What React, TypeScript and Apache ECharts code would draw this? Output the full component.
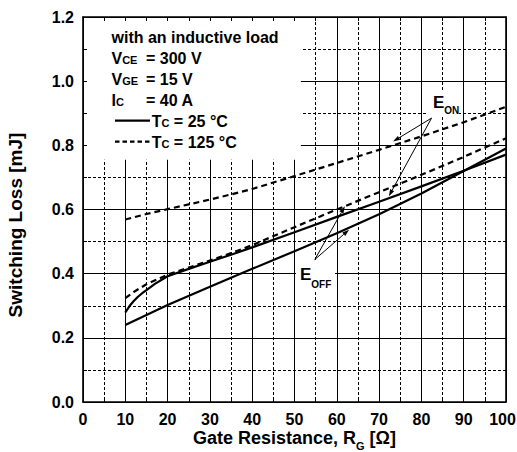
import React, { useEffect, useRef } from "react";
import * as echarts from "echarts";

// ---------------- data ----------------
const xMin = 0;
const xMax = 100;
const xStep = 10;
const yMin = 0;
const yMax = 1.2;
const yStep = 0.2;

// E_ON, Tc = 125 °C (dashed, upper)
const eon125X = [10, 15, 20, 25, 30, 35, 40, 50, 60, 70, 80, 90, 100];
const eon125Y = [0.569, 0.586, 0.601, 0.616, 0.631, 0.647, 0.664, 0.704, 0.745, 0.786, 0.828, 0.872, 0.92];

// E_OFF, Tc = 125 °C (dashed, lower)
const eoff125X = [10, 12, 15, 20, 25, 30, 35, 40, 50, 60, 70, 80, 90, 100];
const eoff125Y = [0.324, 0.343, 0.367, 0.397, 0.419, 0.441, 0.464, 0.489, 0.545, 0.6, 0.654, 0.708, 0.764, 0.822];

// E_ON, Tc = 25 °C (solid, curved start)
const eon25X = [10, 11, 12, 13, 14, 15, 17, 20, 25, 30, 35, 40, 50, 60, 70, 80, 90, 100];
const eon25Y = [0.279, 0.299, 0.315, 0.328, 0.339, 0.349, 0.368, 0.392, 0.415, 0.437, 0.459, 0.482, 0.529, 0.577, 0.624, 0.672, 0.721, 0.771];

// E_OFF, Tc = 25 °C (solid, straight)
const eoff25X = [10, 20, 30, 40, 50, 60, 70, 80, 90, 100];
const eoff25Y = [0.24, 0.302, 0.359, 0.415, 0.47, 0.526, 0.585, 0.65, 0.72, 0.79];

// annotation anchors in data units
const eonFrom = [82.4, 0.885];
const eonTips = [
  [73.3, 0.812],
  [72.3, 0.641],
];
const eoffFrom = [54.8, 0.444];
const eoffTips = [
  [61.9, 0.61],
  [62.9, 0.537],
];
// region of the condition box (no grid lines there)
const boxXEnd = 51.5;
const boxYStart = 0.755;

// texts
const xTitleMain = "Gate Resistance, R";
const xTitleSub = "G";
const xTitleTail = " [Ω]";
const yTitle = "Switching Loss [mJ]";
const condTitle = "with an inductive load";
const vceMain = "V";
const vceSub = "CE";
const vceVal = "= 300 V";
const vgeMain = "V";
const vgeSub = "GE";
const vgeVal = "= 15 V";
const icMain = "I";
const icSub = "C";
const icVal = "= 40 A";
const tcMain = "T";
const tcSub = "C";
const tc25 = " = 25 °C";
const tc125 = " = 125 °C";
const eLetter = "E";
const onSub = "ON";
const offSub = "OFF";

const FONT = "Arial, 'Liberation Sans', Helvetica, sans-serif";

const pairs = (xs: number[], ys: number[]) => xs.map((x, i) => [x, ys[i]]);

let measureCtx: CanvasRenderingContext2D | null = null;
function tw(t: string, size: number) {
  if (!measureCtx) measureCtx = document.createElement("canvas").getContext("2d");
  measureCtx!.font = `bold ${size}px ${FONT}`;
  return measureCtx!.measureText(t).width;
}

function txt(x: number, base: number, t: string, size: number, align = "left", z = 6, extra: any = {}) {
  return {
    type: "text",
    z,
    x,
    y: base - 0.3465 * size,
    ...extra,
    style: {
      text: t,
      fontSize: size,
      fontWeight: "bold",
      fontFamily: FONT,
      fill: "#000",
      textAlign: align,
      align,
      textVerticalAlign: "middle",
      verticalAlign: "middle",
    },
  };
}

function arrow(from: number[], to: number[]) {
  const dx = to[0] - from[0];
  const dy = to[1] - from[1];
  const L = Math.hypot(dx, dy);
  const ux = dx / L;
  const uy = dy / L;
  const hl = 7;
  const hw = 2.3;
  const bx = to[0] - ux * hl;
  const by = to[1] - uy * hl;
  return [
    {
      type: "line",
      z: 7,
      shape: { x1: from[0], y1: from[1], x2: bx, y2: by },
      style: { stroke: "#000", lineWidth: 1 },
    },
    {
      type: "polygon",
      z: 7,
      shape: {
        points: [
          [to[0], to[1]],
          [bx - uy * hw, by + ux * hw],
          [bx + uy * hw, by - ux * hw],
        ],
      },
      style: { fill: "#000" },
    },
  ];
}

const axisBase = { type: "value", min: xMin, max: xMax, interval: xStep };
const yAxisBase = { type: "value", min: yMin, max: yMax, interval: yStep };

const labelStyle = {
  show: true,
  fontSize: 16,
  fontWeight: "bold",
  color: "#000",
  fontFamily: FONT,
  margin: 9,
};

const frameLine = { show: true, onZero: false, lineStyle: { color: "#000", width: 1.6 } };

const lineSeries = (name: string, data: number[][], dashed: boolean) => ({
  name,
  type: "line",
  data,
  xAxisIndex: 0,
  yAxisIndex: 0,
  z: 4,
  showSymbol: false,
  symbol: "none",
  smooth: false,
  lineStyle: { color: "#000", width: 2.2, type: dashed ? [6, 4] : "solid", join: "round" },
});

export default function App() {
  const ref = useRef<HTMLDivElement>(null);

  useEffect(() => {
    const chart = echarts.init(ref.current!, null, { renderer: "svg" });
    chart.setOption({
      animation: false,
      backgroundColor: "#fff",
      grid: { left: 83, right: 11, top: 17, bottom: 50, containLabel: false, outerBoundsMode: "none" },
      xAxis: [
        {
          ...axisBase,
          position: "bottom",
          z: 0,
          axisLine: { show: false, onZero: false },
          axisTick: { show: false },
          axisLabel: { show: false },
          splitLine: { show: true, lineStyle: { color: "#000", width: 1 } },
          minorTick: { show: false, splitNumber: 2 },
          minorSplitLine: { show: true, lineStyle: { color: "#000", width: 1, type: [3, 2] } },
        },
        {
          ...axisBase,
          position: "bottom",
          z: 3,
          axisLine: frameLine,
          axisTick: { show: true, inside: true, length: 4, lineStyle: { color: "#000" } },
          minorTick: { show: true, splitNumber: 2, length: 4, lineStyle: { color: "#000" } },
          axisLabel: {
            ...labelStyle,
            formatter: (v: number) => (v === xMax ? `{m|${v}}` : String(v)),
            rich: {
              m: {
                fontSize: 16,
                fontWeight: "bold",
                color: "#000",
                fontFamily: FONT,
                padding: [0, 7, 0, 0],
              },
            },
          },
          splitLine: { show: false },
        },
        {
          ...axisBase,
          position: "top",
          z: 3,
          axisLine: frameLine,
          axisTick: { show: true, inside: true, length: 4, lineStyle: { color: "#000" } },
          minorTick: { show: true, splitNumber: 2, length: 4, lineStyle: { color: "#000" } },
          axisLabel: { show: false },
          splitLine: { show: false },
        },
      ],
      yAxis: [
        {
          ...yAxisBase,
          position: "left",
          z: 0,
          axisLine: { show: false, onZero: false },
          axisTick: { show: false },
          axisLabel: { show: false },
          splitLine: { show: true, lineStyle: { color: "#000", width: 1 } },
          minorTick: { show: false, splitNumber: 2 },
          minorSplitLine: { show: true, lineStyle: { color: "#000", width: 1, type: [3, 2] } },
        },
        {
          ...yAxisBase,
          position: "left",
          z: 3,
          axisLine: frameLine,
          axisTick: { show: true, inside: true, length: 4, lineStyle: { color: "#000" } },
          minorTick: { show: true, splitNumber: 2, length: 4, lineStyle: { color: "#000" } },
          axisLabel: { ...labelStyle, formatter: (v: number) => v.toFixed(1) },
          splitLine: { show: false },
        },
        {
          ...yAxisBase,
          position: "right",
          z: 3,
          axisLine: frameLine,
          axisTick: { show: false },
          axisLabel: { show: false },
          splitLine: { show: false },
        },
      ],
      series: [
        lineSeries("EON 125", pairs(eon125X, eon125Y), true),
        lineSeries("EOFF 125", pairs(eoff125X, eoff125Y), true),
        lineSeries("EON 25", pairs(eon25X, eon25Y), false),
        lineSeries("EOFF 25", pairs(eoff25X, eoff25Y), false),
      ],
    });

    const P = (x: number, y: number) => chart.convertToPixel({ gridIndex: 0 }, [x, y]) as number[];
    const tl = P(xMin, yMax);
    const br = P(xMax, yMin);
    const boxBR = P(boxXEnd, boxYStart);

    const els: any[] = [];
    // white box covering the grid behind the conditions
    els.push({
      type: "rect",
      z: 1,
      shape: { x: tl[0] + 1, y: tl[1] + 1, width: boxBR[0] - tl[0] - 1, height: boxBR[1] - tl[1] - 1 },
      style: { fill: "#fff" },
    });
    // white backgrounds of E labels
    els.push({ type: "rect", z: 1, shape: { x: 427, y: 92, width: 32, height: 24 }, style: { fill: "#fff" } });
    els.push({ type: "rect", z: 1, shape: { x: 296, y: 262, width: 39, height: 28 }, style: { fill: "#fff" } });

    // condition text
    const cx = 111.5;
    const eqX = 146;
    els.push(txt(cx, 43.3, condTitle, 16));
    els.push(txt(cx, 64.3, vceMain, 16));
    els.push(txt(cx + tw(vceMain, 16), 64.3, vceSub, 11));
    els.push(txt(eqX, 64.3, vceVal, 16));
    els.push(txt(cx, 85, vgeMain, 16));
    els.push(txt(cx + tw(vgeMain, 16), 85, vgeSub, 11));
    els.push(txt(eqX, 85, vgeVal, 16));
    els.push(txt(cx, 106, icMain, 16));
    els.push(txt(cx + tw(icMain, 16), 106, icSub, 11));
    els.push(txt(eqX, 106, icVal, 16));

    // legend
    const lx0 = 115;
    const lx1 = 150;
    const tx = 151.7;
    els.push({
      type: "line",
      z: 6,
      shape: { x1: lx0, y1: 120.7, x2: lx1, y2: 120.7 },
      style: { stroke: "#000", lineWidth: 2.2 },
    });
    els.push({
      type: "line",
      z: 6,
      shape: { x1: lx0, y1: 141.7, x2: lx1, y2: 141.7 },
      style: { stroke: "#000", lineWidth: 2.2, lineDash: [4.5, 3] },
    });
    const tW = tw(tcMain, 16);
    const cW = tw(tcSub, 11);
    els.push(txt(tx, 126.7, tcMain, 16));
    els.push(txt(tx + tW, 126.7, tcSub, 11));
    els.push(txt(tx + tW + cW, 126.7, tc25, 16));
    els.push(txt(tx, 147.7, tcMain, 16));
    els.push(txt(tx + tW, 147.7, tcSub, 11));
    els.push(txt(tx + tW + cW, 147.7, tc125, 16));

    // E_ON label + arrows
    const eW = tw(eLetter, 17);
    els.push(txt(433, 108.5, eLetter, 17, "left", 7));
    els.push(txt(433 + eW, 114, onSub, 10, "left", 7));
    const ef = P(eonFrom[0], eonFrom[1]);
    eonTips.forEach((t) => els.push(...arrow(ef, P(t[0], t[1]))));

    // E_OFF label + arrows
    els.push(txt(300, 280.5, eLetter, 17, "left", 7));
    els.push(txt(300 + eW, 287.5, offSub, 10, "left", 7));
    const of = P(eoffFrom[0], eoffFrom[1]);
    eoffTips.forEach((t) => els.push(...arrow(of, P(t[0], t[1]))));

    // axis titles
    const sMain = 18;
    const sSub = 11;
    const w1 = tw(xTitleMain, sMain);
    const w2 = tw(xTitleSub, sSub);
    const w3 = tw(xTitleTail, sMain);
    const midX = (tl[0] + br[0]) / 2;
    const start = midX - (w1 + w2 + w3) / 2;
    els.push(txt(start, 444.5, xTitleMain, sMain));
    els.push(txt(start + w1, 449.5, xTitleSub, sSub));
    els.push(txt(start + w1 + w2, 444.5, xTitleTail, sMain));

    els.push({
      type: "text",
      z: 6,
      x: 15,
      y: 225,
      rotation: Math.PI / 2,
      style: {
        text: yTitle,
        fontSize: 19,
        fontWeight: "bold",
        fontFamily: FONT,
        fill: "#000",
        textAlign: "center",
        align: "center",
        textVerticalAlign: "middle",
        verticalAlign: "middle",
      },
    });

    chart.setOption({ graphic: els });

    return () => chart.dispose();
  }, []);

  return (
    <div
      ref={ref}
      style={{ position: "fixed", left: 0, top: 0, width: 517, height: 452, background: "#fff" }}
    />
  );
}
